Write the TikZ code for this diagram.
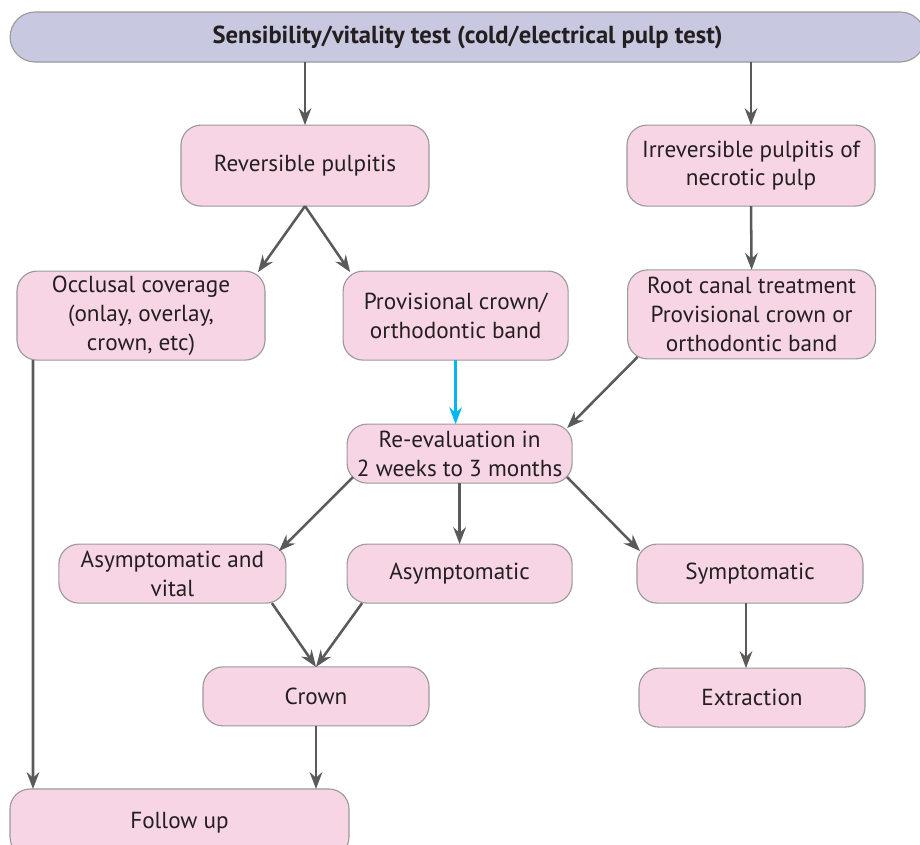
\documentclass[tikz,border=0pt]{standalone}
\usepackage{fontspec}
\setmainfont{PT Sans}
\usetikzlibrary{arrows.meta}

\definecolor{boxpink}{HTML}{F8D5E5}
\definecolor{boxlav}{HTML}{C8C8E0}
\definecolor{boxline}{HTML}{9A9A9A}
\definecolor{arrowgray}{HTML}{5A5A5A}
\definecolor{txtdark}{HTML}{231F20}
\definecolor{evalcyan}{HTML}{00B7F1}

\begin{document}
\begin{tikzpicture}[inner sep=0pt,outer sep=0pt,
pathbox/.style={draw=boxline,line width=0.8pt,fill=boxpink,rounded corners=0.5cm,align=center,
  minimum width=5.65cm,minimum height=1.475cm,text=txtdark,font=\fontsize{16.5}{20.5}\selectfont},
headbox/.style={pathbox,fill=boxlav,rounded corners=0.625cm,font=\fontsize{17.5}{20.5}\selectfont\bfseries},
flow/.style={draw=arrowgray,line width=1.8pt,-{Stealth[length=12pt,width=9pt,inset=4pt]}}]

\clip (0,0) rectangle (23,-21.125);

\draw (11.69,-0.925) node[headbox,minimum width=22.875cm,minimum height=1.25cm] (test) {Sensibility/vitality test (cold/electrical pulp test)};

\draw (7.625,-4.14) node[pathbox,minimum width=6.2cm,minimum height=2.025cm] (rev) {Reversible pulpitis};
\draw (18.775,-4.14) node[pathbox,minimum width=6.2cm,minimum height=2.025cm] (irrev) {Irreversible pulpitis of\\necrotic pulp};

\draw (3.525,-7.89) node[pathbox,minimum width=6.2cm,minimum height=2.225cm] (occl) {Occlusal coverage\\(onlay, overlay,\\crown, etc)};
\draw (11.39,-7.89) node[pathbox,minimum width=5.625cm,minimum height=2.225cm] (prov) {Provisional crown/\\orthodontic band};
\draw (18.79,-7.86) node[pathbox,minimum width=6.2cm,minimum height=2.225cm] (root) {Root canal treatment\\Provisional crown or\\orthodontic band};

\draw (11.49,-11.34) node[pathbox,minimum width=5.625cm] (reeval) {Re-evaluation in\\2 weeks to 3 months};

\draw (4.31,-14.34) node[pathbox,minimum width=5.675cm] (asv) {Asymptomatic and\\vital};
\draw (11.49,-14.34) node[pathbox,minimum width=5.625cm] (asym) {Asymptomatic};
\draw (18.75,-14.34) node[pathbox] (symp) {Symptomatic};

\draw (7.9,-17.41) node[pathbox] (crown) {Crown};
\draw (18.8,-17.44) node[pathbox] (extr) {Extraction};

\draw (4.4875,-20.575) node[pathbox,minimum width=8.475cm,minimum height=1.7cm] (follow) {Follow up};

% from the test
\draw[flow] (rev.north |- test.south) -- (rev.north);
\draw[flow] (irrev.north |- test.south) -- (irrev.north);

% reversible side
\draw[flow] (rev.south) -- ([xshift=-0.175cm,yshift=-0.025cm]occl.north east);
\draw[flow] (rev.south) -- ([xshift=0.175cm,yshift=-0.025cm]prov.north west);
\draw[flow,draw=evalcyan] (prov.south) -- (prov.south |- reeval.north);
\draw[flow] ([xshift=0.4cm]occl.south west) -- ([xshift=0.575cm]follow.north west);

% irreversible side
\draw[flow] (irrev.south) -- (root.north);
\draw[flow] ([xshift=0.25cm,yshift=0.05cm]root.south west) -- ([xshift=-0.125cm,yshift=-0.1cm]reeval.north east);

% re-evaluation
\draw[flow] ([xshift=0.15cm,yshift=0.15cm]reeval.south west) -- ([xshift=-0.175cm,yshift=-0.175cm]asv.north east);
\draw[flow] (reeval.south) -- (asym.north);
\draw[flow] ([xshift=-0.125cm,yshift=0.15cm]reeval.south east) -- ([xshift=0.075cm,yshift=-0.175cm]symp.north west);

\draw[flow] ([xshift=-0.35cm]asv.south east) -- (crown.north);
\draw[flow] ([xshift=0.375cm]asym.south west) -- (crown.north);
\draw[flow] (crown.south) -- (crown.south |- follow.north);
\draw[flow] ([xshift=-0.1cm]symp.south) -- ([xshift=-0.1cm]symp.south |- extr.north);
\end{tikzpicture}
\end{document}
